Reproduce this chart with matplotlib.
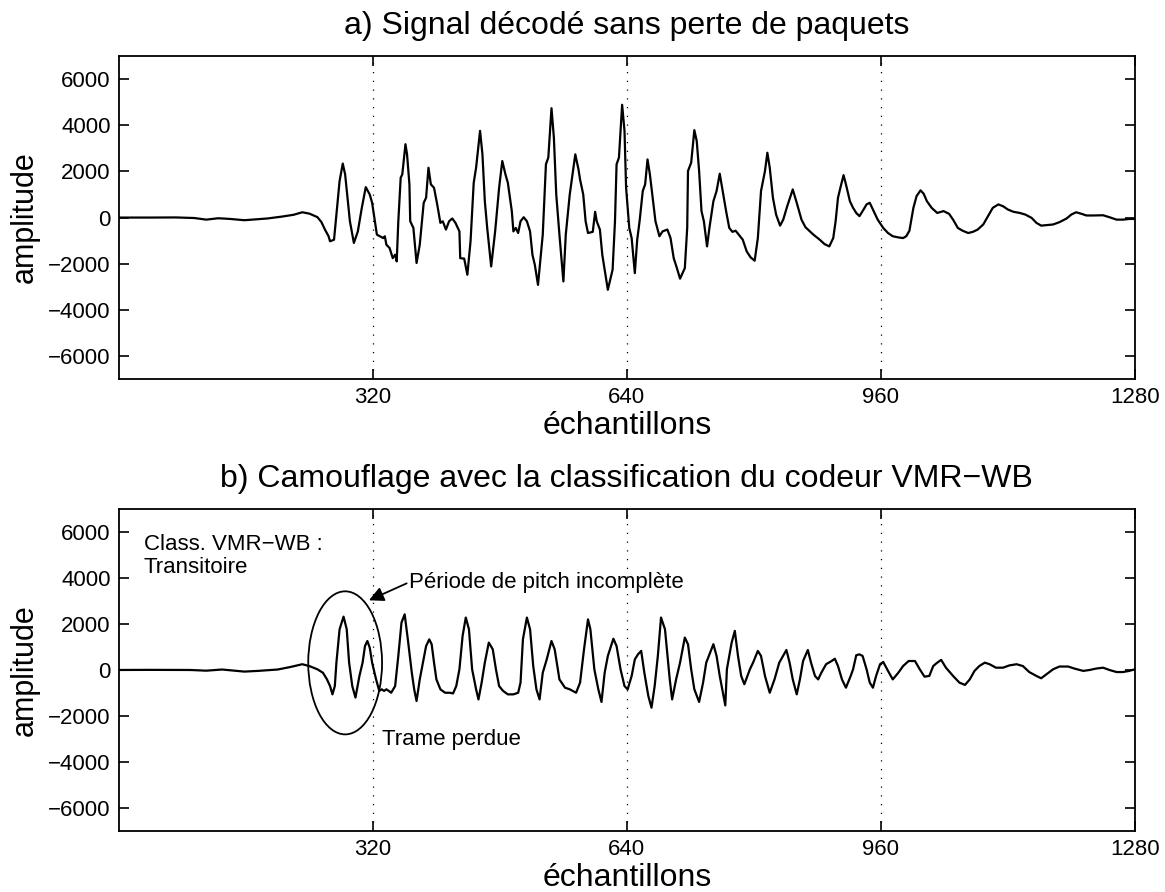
import matplotlib
matplotlib.use('Agg')
import matplotlib.pyplot as plt
from matplotlib.patches import Ellipse

plt.rcParams['font.family'] = ['Liberation Sans', 'DejaVu Sans']

# a) decoded signal, no packet loss (sample index, amplitude)
xa = [0, 40, 72, 95, 110, 125, 140, 158, 175, 187, 205, 220, 231, 240, 250, 255, 260, 264,
      266, 271, 274, 278, 282, 285, 288, 291, 296, 301, 306, 311, 316, 319, 325, 333, 335, 337,
      341, 345, 348, 350, 352, 355, 357, 361, 363, 366, 367, 371, 375, 379, 384, 387, 390, 393,
      397, 401, 405, 408, 412, 416, 420, 424, 429, 430, 435, 439, 443, 447, 450, 455, 458, 461,
      464, 469, 474, 479, 483, 487, 490, 495, 497, 500, 503, 506, 510, 514, 518, 521, 524, 528,
      534, 538, 541, 545, 548, 551, 555, 560, 563, 568, 575, 579, 581, 585, 588, 591, 597, 600,
      602, 606, 609, 613, 616, 622, 625, 627, 630, 634, 637, 639, 643, 646, 650, 653, 656, 660,
      663, 666, 669, 672, 676, 681, 685, 691, 695, 699, 703, 707, 713, 716, 717, 721, 725, 728,
      731, 734, 737, 741, 744, 749, 753, 757, 760, 765, 769, 773, 777, 781, 786, 791, 796, 801,
      805, 809, 814, 817, 820, 824, 828, 833, 837, 842, 849, 854, 860, 865, 875, 883, 889, 895,
      900, 903, 906, 909, 913, 916, 921, 925, 929, 933, 937, 942, 946, 950, 956, 963, 969, 975,
      982, 988, 992, 996, 1001, 1005, 1010, 1014, 1018, 1024, 1031, 1039, 1046, 1051, 1057, 1063,
      1070, 1076, 1082, 1089, 1095, 1101, 1108, 1114, 1120, 1127, 1135, 1142, 1150, 1156, 1162,
      1168, 1177, 1185, 1194, 1200, 1206, 1213, 1219, 1227, 1240, 1248, 1257, 1265, 1273, 1280]
ya = [0, 0, 5, -20, -90, -30, -60, -115, -70, -40, 40, 120, 230, 170, 20, -190, -550, -800,
      -1030, -960, 130, 1580, 2340, 1870, 860, -160, -1100, -600, 420, 1320, 1000, 640, -740, -890, -810, -1180,
      -1320, -1760, -1610, -1900, -160, 1730, 1870, 3180, 2740, 1440, -160, -450, -1970, -1180, 640, 860, 2160, 1440,
      1290, 570, -230, -160, -520, -160, -40, -230, -600, -1760, -1780, -2480, -1030, 1510, 2160, 3760, 2740, 710,
      -450, -2120, -600, 1290, 2450, 1870, 1510, 280, -600, -450, -670, -160, 15, -160, -600, -1610, -2050, -2920,
      -740, 2310, 2600, 4740, 3470, 1000, -740, -2770, -740, 1000, 2740, 2090, 1650, 1000, -160, -670, -620, 250,
      -160, -520, -1610, -2480, -3130, -2260, -160, 2310, 2600, 4890, 3760, 1290, -450, -890, -2410, -960, -160, 1150,
      1440, 2520, 1870, 1000, -160, -810, -600, -520, -890, -1760, -2190, -2650, -2190, -450, 2020, 2380, 3790, 3320,
      2020, 280, -160, -1250, -450, 710, 1150, 1900, 1290, 280, -450, -620, -570, -740, -960, -1470, -1730, -1870,
      -890, 1150, 2020, 2810, 2160, 860, 130, -350, -90, 490, 1220, 640, -90, -420, -740, -960, -1150, -1250,
      -890, -160, 860, 1290, 1840, 1440, 710, 420, 200, 60, 280, 570, 640, 350, -90, -450, -670, -810,
      -860, -890, -810, -570, 420, 930, 1180, 1030, 710, 420, 200, 280, 160, -90, -450, -570,
      -670, -620, -520, -300, 60, 420, 570, 490, 350, 250, 200, 130, -15, -230, -350,
      -330, -300, -200, -40, 130, 230, 160, 90, 90, 100, 15, -90, -90, -60, -60]

# b) concealment with VMR-WB classification
xb = [0, 40, 90, 110, 130, 158, 175, 200, 216, 231, 240, 250, 257, 262, 266, 269, 272, 274,
      278, 283, 287, 290, 294, 298, 303, 307, 310, 313, 316, 319, 324, 328, 331, 334, 337, 340,
      343, 348, 352, 356, 360, 364, 369, 372, 375, 379, 383, 387, 391, 394, 397, 400, 405, 411,
      417, 421, 425, 429, 433, 437, 441, 445, 450, 453, 457, 461, 466, 471, 475, 479, 484, 490,
      497, 503, 506, 509, 514, 518, 522, 526, 530, 534, 539, 545, 549, 555, 562, 568, 576, 581,
      586, 591, 594, 599, 604, 608, 612, 616, 623, 627, 632, 637, 641, 646, 650, 654, 658, 662,
      667, 671, 675, 679, 683, 688, 692, 694, 697, 702, 707, 713, 717, 721, 725, 731, 736, 740,
      749, 753, 757, 764, 766, 772, 776, 780, 784, 788, 795, 799, 805, 809, 814, 820, 826, 832,
      841, 845, 849, 854, 858, 862, 868, 872, 877, 881, 885, 891, 898, 902, 906, 911, 916, 922,
      925, 929, 933, 937, 942, 946, 950, 954, 959, 963, 969, 975, 982, 988, 995, 1003, 1009, 1015,
      1021, 1026, 1030, 1036, 1042, 1051, 1059, 1066, 1072, 1078, 1084, 1091, 1097, 1105, 1114, 1122,
      1131, 1139, 1147, 1156, 1162, 1170, 1177, 1185, 1196, 1204, 1215, 1223, 1231, 1240, 1248, 1257,
      1265, 1273, 1280]
yb = [0, 5, 0, -30, 20, -70, -40, 20, 130, 250, 170, 30, -120, -400, -700, -1060, -700, 320,
      1770, 2320, 1770, 320, -700, -1200, -260, 320, 1040, 1260, 970, 320, -410, -910, -840, -910, -840, -910,
      -990, -700, 610, 2060, 2420, 1330, -120, -840, -1350, -410, 320, 1040, 1330, 1120, 320, -410, -840, -990,
      -990, -1020, -700, 30, 1480, 2280, 1770, 30, -840, -1280, -550, 320, 1190, 900, 30, -700, -910, -1060,
      -1060, -990, -550, 1330, 2280, 1770, 170, -840, -1280, -120, 460, 1260, 900, -410, -770, -840, -990, -550,
      900, 2200, 1770, 30, -840, -1390, -120, 610, 1360, 1040, 30, -700, -840, -260, 460, 680, 830, -120,
      -1130, -1640, -700, 610, 2280, 1770, 320, -410, -1280, -410, 320, 1410, 1120, 30, -840, -1390, -550, 320,
      1120, 610, -260, -1540, 30, 1190, 1700, 610, -260, -620, 30, 320, 830, 610, -260, -990, -410, 320,
      870, 320, -410, -1060, -410, 390, 870, 320, -260, -410, -120, 250, 390, 490, 170, -410, -770, -260,
      30, 640, 680, 610, 30, -550, -770, -260, 250, 350, -40, -410, -120, 170, 390, 390, 30, -290,
      -260, 170, 290, 440, 100, -260, -550, -650, -410, -40, 170, 320, 250, 100, 100, 200,
      250, 170, -90, -260, -360, -150, 30, 150, 150, 60, -40, 0, 60, 100, 0, -90,
      -90, -40, 30]

xtick_vals = [320, 640, 960, 1280]
ytick_vals = [-6000, -4000, -2000, 0, 2000, 4000, 6000]

fig = plt.figure(figsize=(11.65, 8.92), dpi=100)
ax1 = fig.add_axes([0.1021, 0.5751, 0.872, 0.362])
ax2 = fig.add_axes([0.1021, 0.0684, 0.872, 0.361])

titles = ['a) Signal décodé sans perte de paquets',
          'b) Camouflage avec la classification du codeur VMR\u2212WB']

for ax, x, y, title in zip([ax1, ax2], [xa, xb], [ya, yb], titles):
    ax.plot(x, y, color='k', lw=1.6)
    ax.set_xlim(0, 1280)
    ax.set_ylim(-7000, 7000)
    ax.set_xticks(xtick_vals)
    ax.set_yticks(ytick_vals)
    ax.xaxis.grid(True, color='k', lw=0.9, linestyle=(0, (1, 6)))
    ax.tick_params(direction='in', top=True, right=True, length=7, width=1.2,
                   labelsize=16, pad=6)
    for s in ax.spines.values():
        s.set_linewidth(1.3)
    ax.set_title(title, fontsize=23, pad=16)
    ax.set_xlabel('échantillons', fontsize=23, labelpad=2)
    ax.set_ylabel('amplitude', fontsize=22, labelpad=6)

# annotations on the concealment plot
ax2.add_patch(Ellipse((285, 310), 93, 6220, fill=False, ec='k', lw=1.3))
ax2.text(31, 5900, 'Class. VMR\u2212WB :\nTransitoire', fontsize=16, ha='left', va='top',
         linespacing=1.08)
ax2.annotate('Période de pitch incomplète', xy=(315, 3030), xytext=(366, 3820),
             fontsize=16, ha='left', va='center',
             arrowprops=dict(arrowstyle='-|>', color='k', lw=1.3, mutation_scale=22,
                             shrinkA=0, shrinkB=0, relpos=(0, 0.5)))
ax2.text(332, -3020, 'Trame perdue', fontsize=16, ha='left', va='center')

fig.savefig('out.png', dpi=100)
